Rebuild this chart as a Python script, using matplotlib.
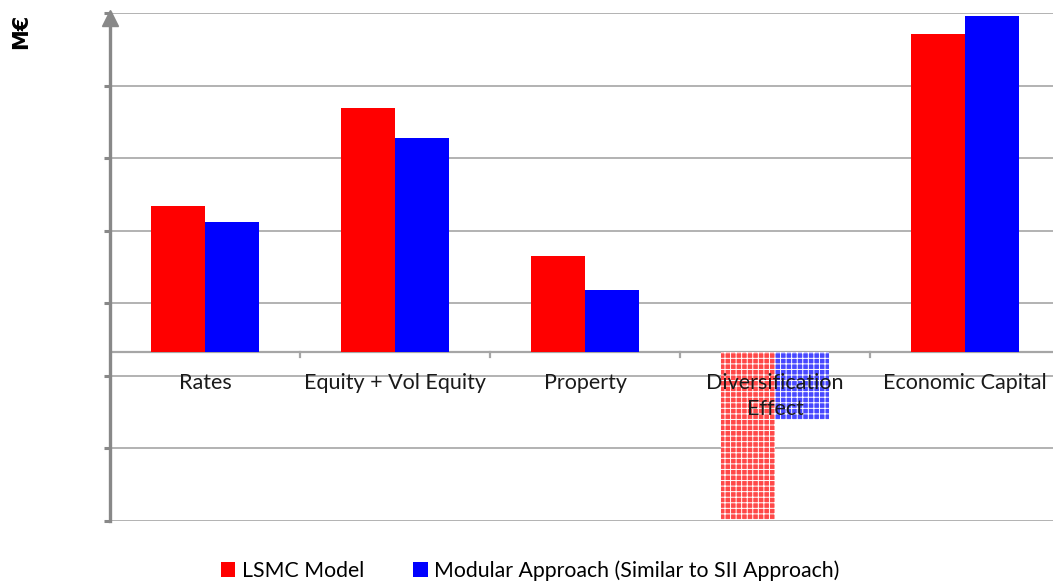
import numpy as np
import matplotlib.pyplot as plt
from matplotlib.patches import Patch

# ── Data (M€) ────────────────────────────────────────────────────────────────
categories = ["Rates", "Equity + Vol Equity", "Property",
              "Diversification\nEffect", "Economic Capital"]
lsmc = [301, 504, 198, -348, 657]
modular = [268, 442, 128, -141, 694]
series_names = ["LSMC Model", "Modular Approach (Similar to SII Approach)"]

# ── Style ─────────────────────────────────────────────────────────────────────
plt.rcParams["font.family"] = ["Lato", "DejaVu Sans"]
plt.rcParams["hatch.linewidth"] = 0.7
GREY = "#888888"
GRID = "#a6a6a6"
RED = "#ff0000"
BLUE = "#0000ff"

W, H = 1053, 583
fig = plt.figure(figsize=(W / 100, H / 100), dpi=100)
ax = fig.add_axes([110 / W, 1 - 521 / H, 950 / W, 508 / H])

x = np.arange(len(categories))
bw = 0.284

for xi, v in zip(x, lsmc):
    if v < 0:
        ax.bar(xi - bw / 2, v, bw, color="#ff4848", edgecolor="white",
               hatch="+++", linewidth=0, zorder=3)
    else:
        ax.bar(xi - bw / 2, v, bw, color=RED, linewidth=0, zorder=3)
for xi, v in zip(x, modular):
    if v < 0:
        ax.bar(xi + bw / 2, v, bw, color="#4848ff", edgecolor="white",
               hatch="+++", linewidth=0, zorder=3)
    else:
        ax.bar(xi + bw / 2, v, bw, color=BLUE, linewidth=0, zorder=3)

ax.set_xlim(-0.5, 4.5)
ax.set_ylim(-350, 700)
yt = np.arange(-350, 701, 150)
ax.set_yticks(yt)
ax.set_yticklabels([])
ax.set_xticks([])
ax.grid(axis="y", color=GRID, linewidth=1.2, zorder=1)
ax.tick_params(axis="y", direction="out", length=4.5, width=2.2, color=GREY)

for s in ["top", "right", "bottom"]:
    ax.spines[s].set_visible(False)
ax.spines["left"].set_color(GREY)
ax.spines["left"].set_linewidth(2.4)
ax.spines["left"].set_zorder(4)

# arrow head on the value axis
ax.plot([-0.5], [690], marker="^", ms=11, color=GREY, clip_on=False, zorder=5)

# category axis at zero with boundary ticks
ax.axhline(0, color=GRID, linewidth=1.6, zorder=2)
for b in np.arange(0.5, 4.5, 1.0):
    ax.plot([b, b], [0, -12], color=GRID, linewidth=1.6, zorder=2)

# category labels
trans = ax.get_xaxis_transform()
for xi, lab in zip(x, categories):
    ax.text(xi, (521 - 373) / 508, lab, transform=trans, ha="center",
            va="top", fontsize=15.5, color="#1a1a1a", linespacing=1.35,
            zorder=6)

fig.text(21 / W, 1 - 31 / H, "M€", rotation=90, ha="center", va="center",
         fontsize=15, fontweight="bold", family=["DejaVu Sans"])

handles = [Patch(facecolor=RED), Patch(facecolor=BLUE)]
fig.legend(handles, series_names, loc="center", ncol=2,
           bbox_to_anchor=(530 / W, 1 - 571 / H), frameon=False,
           fontsize=15.3, handlelength=0.7, handleheight=0.7,
           handletextpad=0.3, columnspacing=2.3)

fig.savefig("out.png", dpi=100, facecolor="white")
